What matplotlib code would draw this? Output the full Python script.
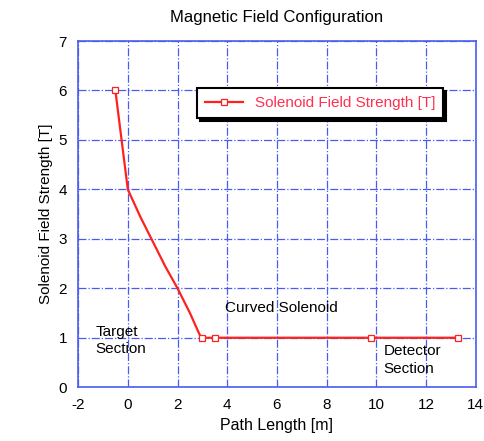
# Magnetic field configuration along the path.

import matplotlib
matplotlib.use('Agg')
import matplotlib.pyplot as plt

# Data.
pathLength = [-0.5, 0.0, 0.5, 1.0, 1.5, 2.0, 2.5, 2.9, 3.0, 3.5, 9.8, 13.3]
fieldStrength = [6.0, 4.0, 3.45, 2.95, 2.45, 2.0, 1.5, 1.05, 1.0, 1.0, 1.0, 1.0]
markerIndex = [0, 8, 9, 10, 11]

xTicks = [-2, 0, 2, 4, 6, 8, 10, 12, 14]
yTicks = [0, 1, 2, 3, 4, 5, 6, 7]

plt.rcParams['font.family'] = ['Liberation Sans', 'DejaVu Sans']
plt.rcParams['axes.unicode_minus'] = False

fig = plt.figure(figsize=(4.85, 4.41), dpi=100)
ax = fig.add_axes([0.161, 0.122, 0.82, 0.785])

ax.plot(pathLength, fieldStrength, color='#ff2020', linewidth=1.6,
        marker='s', markevery=markerIndex, markersize=4,
        markerfacecolor='white', markeredgecolor='#ff2020', markeredgewidth=0.9,
        label='Solenoid Field Strength [T]')

ax.set_xlim(-2, 14)
ax.set_ylim(0, 7)
ax.set_xticks(xTicks)
ax.set_yticks(yTicks)
ax.tick_params(length=0, labelsize=11, pad=8)
ax.grid(True, color='#4a5cf0', linestyle='-.', linewidth=0.9)
for spine in ax.spines.values():
    spine.set_color('#4a5cf0')
    spine.set_linewidth(1.2)

ax.set_title('Magnetic Field Configuration', fontsize=12, pad=14)
ax.set_xlabel('Path Length [m]', fontsize=11.5)
ax.set_ylabel('Solenoid Field Strength [T]', fontsize=11)

# Section labels.
ax.text(3.9, 1.6, 'Curved Solenoid', fontsize=11, ha='left', va='center')
ax.text(-1.3, 0.95, 'Target\nSection', fontsize=11, ha='left', va='center', linespacing=1.3)
ax.text(10.3, 0.55, 'Detector\nSection', fontsize=11, ha='left', va='center', linespacing=1.3)

leg = ax.legend(loc='upper left', bbox_to_anchor=(0.28, 0.885), fontsize=11,
                fancybox=False, shadow={'color': 'black', 'alpha': 1}, framealpha=1,
                labelcolor='#ff3050', handlelength=2.5, borderpad=0.5)
leg.get_frame().set_edgecolor('black')
leg.get_frame().set_linewidth(1.5)

fig.savefig('out.png', dpi=100)
